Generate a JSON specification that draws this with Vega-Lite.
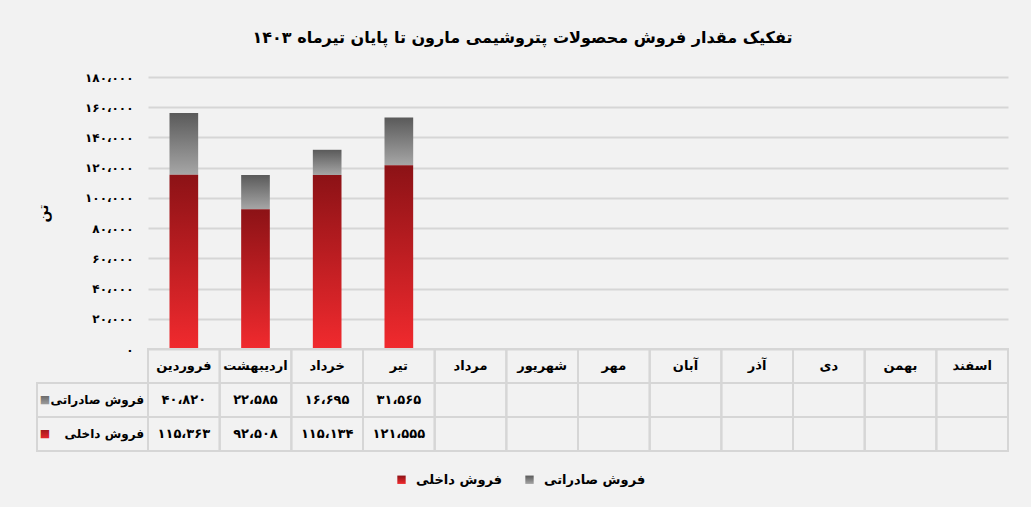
{
  "$schema": "https://vega.github.io/schema/vega-lite/v6.json",
  "background": "#f2f2f2",
  "padding": {"left": 36, "top": 30, "right": 24, "bottom": 22},
  "title": {
    "text": "تفکیک مقدار فروش محصولات پتروشیمی مارون تا پایان تیرماه ۱۴۰۳",
    "font": "DejaVu Sans",
    "fontSize": 16,
    "fontWeight": "bold",
    "color": "#000000",
    "anchor": "middle",
    "offset": 25
  },
  "config": {
    "font": "DejaVu Sans",
    "view": {"stroke": null}
  },
  "datasets": {
    "sales": [
      {"month": "فروردین", "series": "فروش صادراتی", "value": 40820},
      {"month": "فروردین", "series": "فروش داخلی", "value": 115363},
      {"month": "اردیبهشت", "series": "فروش صادراتی", "value": 22585},
      {"month": "اردیبهشت", "series": "فروش داخلی", "value": 92508},
      {"month": "خرداد", "series": "فروش صادراتی", "value": 16695},
      {"month": "خرداد", "series": "فروش داخلی", "value": 115134},
      {"month": "تیر", "series": "فروش صادراتی", "value": 31565},
      {"month": "تیر", "series": "فروش داخلی", "value": 121555},
      {"month": "مرداد", "series": "فروش صادراتی", "value": null},
      {"month": "مرداد", "series": "فروش داخلی", "value": null},
      {"month": "شهریور", "series": "فروش صادراتی", "value": null},
      {"month": "شهریور", "series": "فروش داخلی", "value": null},
      {"month": "مهر", "series": "فروش صادراتی", "value": null},
      {"month": "مهر", "series": "فروش داخلی", "value": null},
      {"month": "آبان", "series": "فروش صادراتی", "value": null},
      {"month": "آبان", "series": "فروش داخلی", "value": null},
      {"month": "آذر", "series": "فروش صادراتی", "value": null},
      {"month": "آذر", "series": "فروش داخلی", "value": null},
      {"month": "دی", "series": "فروش صادراتی", "value": null},
      {"month": "دی", "series": "فروش داخلی", "value": null},
      {"month": "بهمن", "series": "فروش صادراتی", "value": null},
      {"month": "بهمن", "series": "فروش داخلی", "value": null},
      {"month": "اسفند", "series": "فروش صادراتی", "value": null},
      {"month": "اسفند", "series": "فروش داخلی", "value": null}
    ]
  },
  "columns": 2,
  "spacing": 0,
  "bounds": "flush",
  "align": "each",
  "resolve": {
    "scale": {"x": "independent", "y": "independent", "color": "shared"},
    "legend": {"color": "shared"}
  },
  "concat": [
    {
      "width": 111,
      "height": 272,
      "data": {"values": [{}]},
      "mark": {"type": "text"},
      "encoding": {"text": {"value": ""}}
    },
    {
      "width": 860,
      "height": 272,
      "data": {"name": "sales"},
      "mark": {"type": "bar"},
      "encoding": {
        "x": {
          "field": "month",
          "type": "nominal",
          "scale": {
            "domain": ["فروردین", "اردیبهشت", "خرداد", "تیر", "مرداد", "شهریور", "مهر", "آبان", "آذر", "دی", "بهمن", "اسفند"],
            "paddingInner": 0.6,
            "paddingOuter": 0.3
          },
          "axis": null
        },
        "y": {
          "field": "value",
          "type": "quantitative",
          "stack": "zero",
          "scale": {"domain": [0, 180000]},
          "axis": {
            "values": [0, 20000, 40000, 60000, 80000, 100000, 120000, 140000, 160000, 180000],
            "title": "تن",
            "titleFontSize": 14,
            "titleFontWeight": "bold",
            "titleColor": "#000000",
            "titlePadding": 34,
            "grid": true,
            "gridColor": "#d6d6d6",
            "gridWidth": 2,
            "domain": false,
            "ticks": false,
            "labelPadding": 15,
            "labelFontSize": 12,
            "labelFontWeight": "bold",
            "labelColor": "#000000",
            "labelExpr": "replace(replace(replace(replace(replace(replace(replace(replace(replace(replace(replace(datum.label, /0/g, '۰'), /1/g, '۱'), /2/g, '۲'), /3/g, '۳'), /4/g, '۴'), /5/g, '۵'), /6/g, '۶'), /7/g, '۷'), /8/g, '۸'), /9/g, '۹'), /,/g, '،')"
          }
        },
        "color": {
          "field": "series",
          "type": "nominal",
          "scale": {
            "domain": ["فروش داخلی", "فروش صادراتی"],
            "range": [
              {"expr": "{gradient: 'linear', x1: 0, y1: 0, x2: 0, y2: 1, stops: [{offset: 0, color: '#8c1216'}, {offset: 1, color: '#f12a2e'}]}"},
              {"expr": "{gradient: 'linear', x1: 0, y1: 0, x2: 0, y2: 1, stops: [{offset: 0, color: '#5a5a5a'}, {offset: 1, color: '#a6a6a6'}]}"}
            ]
          },
          "legend": {
            "orient": "none",
            "legendX": 358,
            "legendY": 396,
            "direction": "horizontal",
            "title": null,
            "symbolType": "square",
            "symbolSize": 70,
            "symbolStrokeWidth": 0,
            "labelFontSize": 13,
            "labelFontWeight": "bold",
            "labelColor": "#000000",
            "labelOffset": 8,
            "columnPadding": 20
          }
        },
        "order": {"field": "series", "sort": "ascending"}
      }
    },
    {
      "width": 111,
      "height": 102,
      "data": {"name": "sales"},
      "transform": [{"filter": {"field": "month", "equal": "فروردین"}}],
      "encoding": {
        "y": {
          "field": "series",
          "type": "nominal",
          "scale": {"domain": ["ماه", "فروش صادراتی", "فروش داخلی"], "paddingInner": 0, "paddingOuter": 0},
          "axis": null
        }
      },
      "layer": [
        {
          "mark": {"type": "rect", "fill": "transparent", "stroke": "#d6d6d6", "strokeWidth": 2}
        },
        {
          "mark": {"type": "text", "align": "right", "dx": -4, "fontSize": 12, "fontWeight": "bold", "color": "#000000"},
          "encoding": {
            "x": {"value": "width"},
            "text": {"field": "series"}
          }
        },
        {
          "mark": {"type": "text", "align": "center", "dx": 8, "fontSize": 11, "text": "■"},
          "encoding": {
            "x": {"value": 0},
            "color": {"field": "series", "type": "nominal"}
          }
        }
      ]
    },
    {
      "width": 860,
      "height": 102,
      "data": {"name": "sales"},
      "encoding": {
        "x": {
          "field": "month",
          "type": "nominal",
          "scale": {
            "domain": ["فروردین", "اردیبهشت", "خرداد", "تیر", "مرداد", "شهریور", "مهر", "آبان", "آذر", "دی", "بهمن", "اسفند"],
            "paddingInner": 0,
            "paddingOuter": 0
          },
          "axis": null
        }
      },
      "layer": [
        {
          "mark": {"type": "rect", "fill": "transparent", "stroke": "#d6d6d6", "strokeWidth": 2},
          "encoding": {
            "y": {
              "field": "series",
              "type": "nominal",
              "scale": {"domain": ["ماه", "فروش صادراتی", "فروش داخلی"], "paddingInner": 0, "paddingOuter": 0},
              "axis": null
            }
          }
        },
        {
          "transform": [{"filter": "datum.value != null"}],
          "mark": {
            "type": "text",
            "fontSize": 13,
            "fontWeight": "bold",
            "color": "#000000",
            "text": {"expr": "replace(replace(replace(replace(replace(replace(replace(replace(replace(replace(replace(format(datum.value, ','), /0/g, '۰'), /1/g, '۱'), /2/g, '۲'), /3/g, '۳'), /4/g, '۴'), /5/g, '۵'), /6/g, '۶'), /7/g, '۷'), /8/g, '۸'), /9/g, '۹'), /,/g, '،')"}
          },
          "encoding": {
            "y": {"field": "series", "type": "nominal"}
          }
        },
        {
          "transform": [{"filter": {"field": "series", "equal": "فروش داخلی"}}],
          "mark": {"type": "rect", "fill": "transparent", "stroke": "#d6d6d6", "strokeWidth": 2},
          "encoding": {
            "y": {"datum": "ماه", "type": "nominal"}
          }
        },
        {
          "transform": [{"filter": {"field": "series", "equal": "فروش داخلی"}}],
          "mark": {"type": "text", "fontSize": 13, "fontWeight": "bold", "color": "#000000"},
          "encoding": {
            "y": {"datum": "ماه", "type": "nominal"},
            "text": {"field": "month"}
          }
        }
      ]
    }
  ]
}
